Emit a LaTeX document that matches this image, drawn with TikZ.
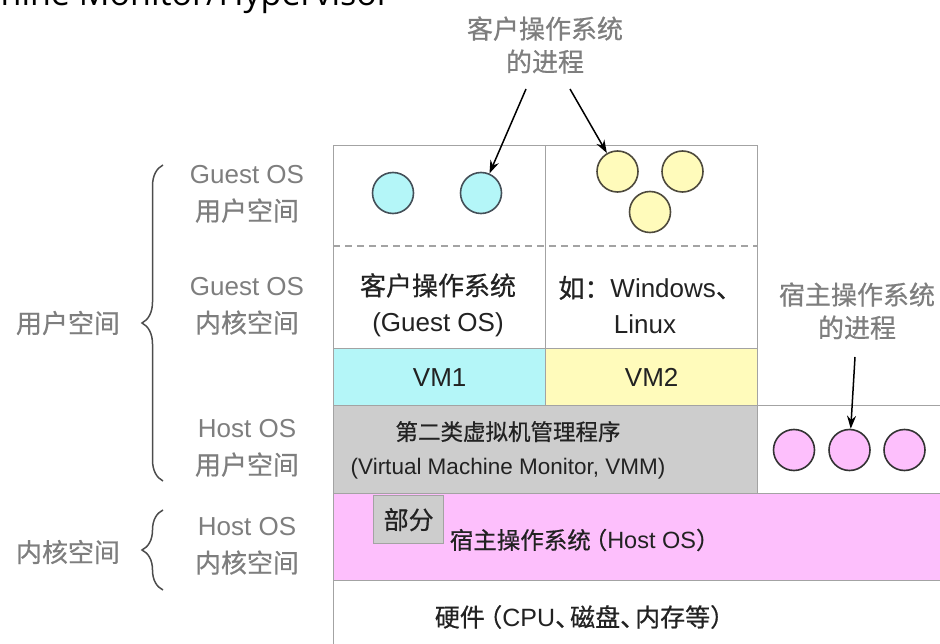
\documentclass[tikz,border=0pt]{standalone}
\usepackage{fontspec}
\setmainfont{Liberation Sans}
\newfontfamily\cjk{Noto Sans CJK SC}[FakeBold=0.6]
\newfontfamily\titlefont{Open Sans}
\newcommand\zh[1]{{\cjk #1}}
\usetikzlibrary{arrows.meta,decorations.pathreplacing}

\definecolor{edge}{HTML}{A3A3A3}
\definecolor{vmcyan}{HTML}{B4F6F8}
\definecolor{vmyellow}{HTML}{FFFBBB}
\definecolor{vmmgray}{HTML}{CDCDCD}
\definecolor{hostpink}{HTML}{FDBFFC}
\definecolor{labelgray}{HTML}{7E7E7E}
\definecolor{ink}{HTML}{222222}

\tikzset{
  x=1pt, y=-1pt,
  layer/.style={draw=edge, line width=1.3pt, anchor=north west, inner sep=0pt},
  boxtext/.style={text=ink, align=center, font=\fontsize{26}{36}\selectfont, inner sep=0pt},
  sidetext/.style={text=labelgray, align=center, font=\fontsize{26}{37}\selectfont, inner sep=0pt},
  proc/.style={circle, draw=#1, line width=1.6pt, minimum size=41pt, inner sep=0pt},
  pointer/.style={-{Stealth[length=13pt,width=9pt]}, line width=1.5pt, black},
  spanbrace/.style={decorate, decoration={brace, amplitude=21pt}, line width=1.5pt, draw=black!70},
}

\begin{document}
\begin{tikzpicture}
\useasboundingbox (0,0) rectangle (940,644);
\clip (0,0) rectangle (940,644);

% slide title, running off the top edge
\node[anchor=base east, inner sep=0pt, text=black, font=\titlefont\fontsize{34}{40}\selectfont]
  (title) at (391,6) {Virtual Machine Monitor/Hypervisor};

% guest user / kernel space of the two virtual machines
\node[layer, minimum width=212pt, minimum height=203pt] (g1) at (333,145) {};
\node[layer, minimum width=212pt, minimum height=203pt] (g2) at (545,145) {};
\draw[edge, line width=1.3pt, dash pattern=on 7pt off 5pt] (g1.west |- 0,246) -- (g2.east |- 0,246);

% virtual machines
\node[layer, fill=vmcyan, minimum width=212pt, minimum height=57pt] (vm1) at (333,348) {};
\node[layer, fill=vmyellow, minimum width=212pt, minimum height=57pt] (vm2) at (545,348) {};
\node[boxtext] at (vm1.center) {VM1};
\node[boxtext] at (vm2.center) {VM2};

% hypervisor and host processes
\node[layer, fill=vmmgray, minimum width=424pt, minimum height=88pt] (vmm) at (333,405) {};
\node[layer, minimum width=200pt, minimum height=88pt] (hproc) at (757,405) {};
\node[boxtext, font=\fontsize{22.5}{34}\selectfont] (vmmtext) at (508,450)
  {\zh{第二类虚拟机管理程序}\\(Virtual Machine Monitor, VMM)};

% host operating system and hardware
\node[layer, fill=hostpink, minimum width=620pt, minimum height=87pt] (host) at (333,493) {};
\node[layer, minimum width=620pt, minimum height=80pt] (hw) at (333,580) {};
\node[layer, fill=vmmgray, minimum width=70pt, minimum height=48pt] (part) at (373,495) {};
\node[boxtext, font=\fontsize{25}{30}\selectfont] at (part.center) {\zh{部分}};
\node[boxtext, font=\fontsize{23.5}{30}\selectfont] (hosttext) at (580,540)
  {\zh{宿主操作系统}\kern-.3em\zh{（}Host OS\zh{）}\kern-.4em};
\node[boxtext, font=\fontsize{25}{30}\selectfont] (hwtext) at (580,617)
  {\zh{硬件}\kern-.3em\zh{（}CPU\zh{、}\kern-.4em\zh{磁盘、}\kern-.4em\zh{内存等）}\kern-.4em};

% guest OS labels
\node[boxtext] (gos1) at (438,305) {\zh{客户操作系统}\\(Guest OS)};
\node[boxtext] (gos2) at (645,305) {\zh{如：}Windows\zh{、}\kern-.4em\\Linux};

% processes
\node[proc=black!75!cyan, fill=vmcyan] (c1) at (393,193) {};
\node[proc=black!75!cyan, fill=vmcyan] (c2) at (481,193) {};
\node[proc=black!80!yellow, fill=vmyellow] (y1) at (617.5,171.5) {};
\node[proc=black!80!yellow, fill=vmyellow] (y2) at (682.5,171.5) {};
\node[proc=black!80!yellow, fill=vmyellow] (y3) at (650,212) {};
\node[proc=black!80, fill=hostpink] (p1) at (794,450) {};
\node[proc=black!80, fill=hostpink] (p2) at (849.5,450) {};
\node[proc=black!80, fill=hostpink] (p3) at (904.5,450) {};

% callouts
\node[sidetext, font=\fontsize{26}{33}\selectfont] (guestproc) at (545,45) {\zh{客户操作系统}\\\zh{的进程}};
\node[sidetext, font=\fontsize{26}{33}\selectfont] (hostprocl) at (857,311) {\zh{宿主操作系统}\\\zh{的进程}};
\coordinate (gp1) at (526,89);
\coordinate (gp2) at (570,89);
\coordinate (hp1) at (855,357);
\draw[pointer] (gp1) -- (c2);
\draw[pointer] (gp2) -- (y1);
\draw[pointer] (hp1) -- (p2);

% privilege levels on the left
\node[sidetext] (l1) at (247,194) {Guest OS\\\zh{用户空间}};
\node[sidetext] (l2) at (247,306) {Guest OS\\\zh{内核空间}};
\node[sidetext] (l3) at (247,448) {Host OS\\\zh{用户空间}};
\node[sidetext] (l4) at (247,546) {Host OS\\\zh{内核空间}};
\node[sidetext] (userspace) at (68,323) {\zh{用户空间}};
\node[sidetext] (kernelspace) at (68,552) {\zh{内核空间}};

\coordinate (ub) at (163,481);
\coordinate (ut) at (163,165);
\coordinate (kb) at (163,590);
\coordinate (kt) at (163,510);
\draw[spanbrace] (ub) -- (ut);
\draw[spanbrace] (kb) -- (kt);
\end{tikzpicture}
\end{document}
